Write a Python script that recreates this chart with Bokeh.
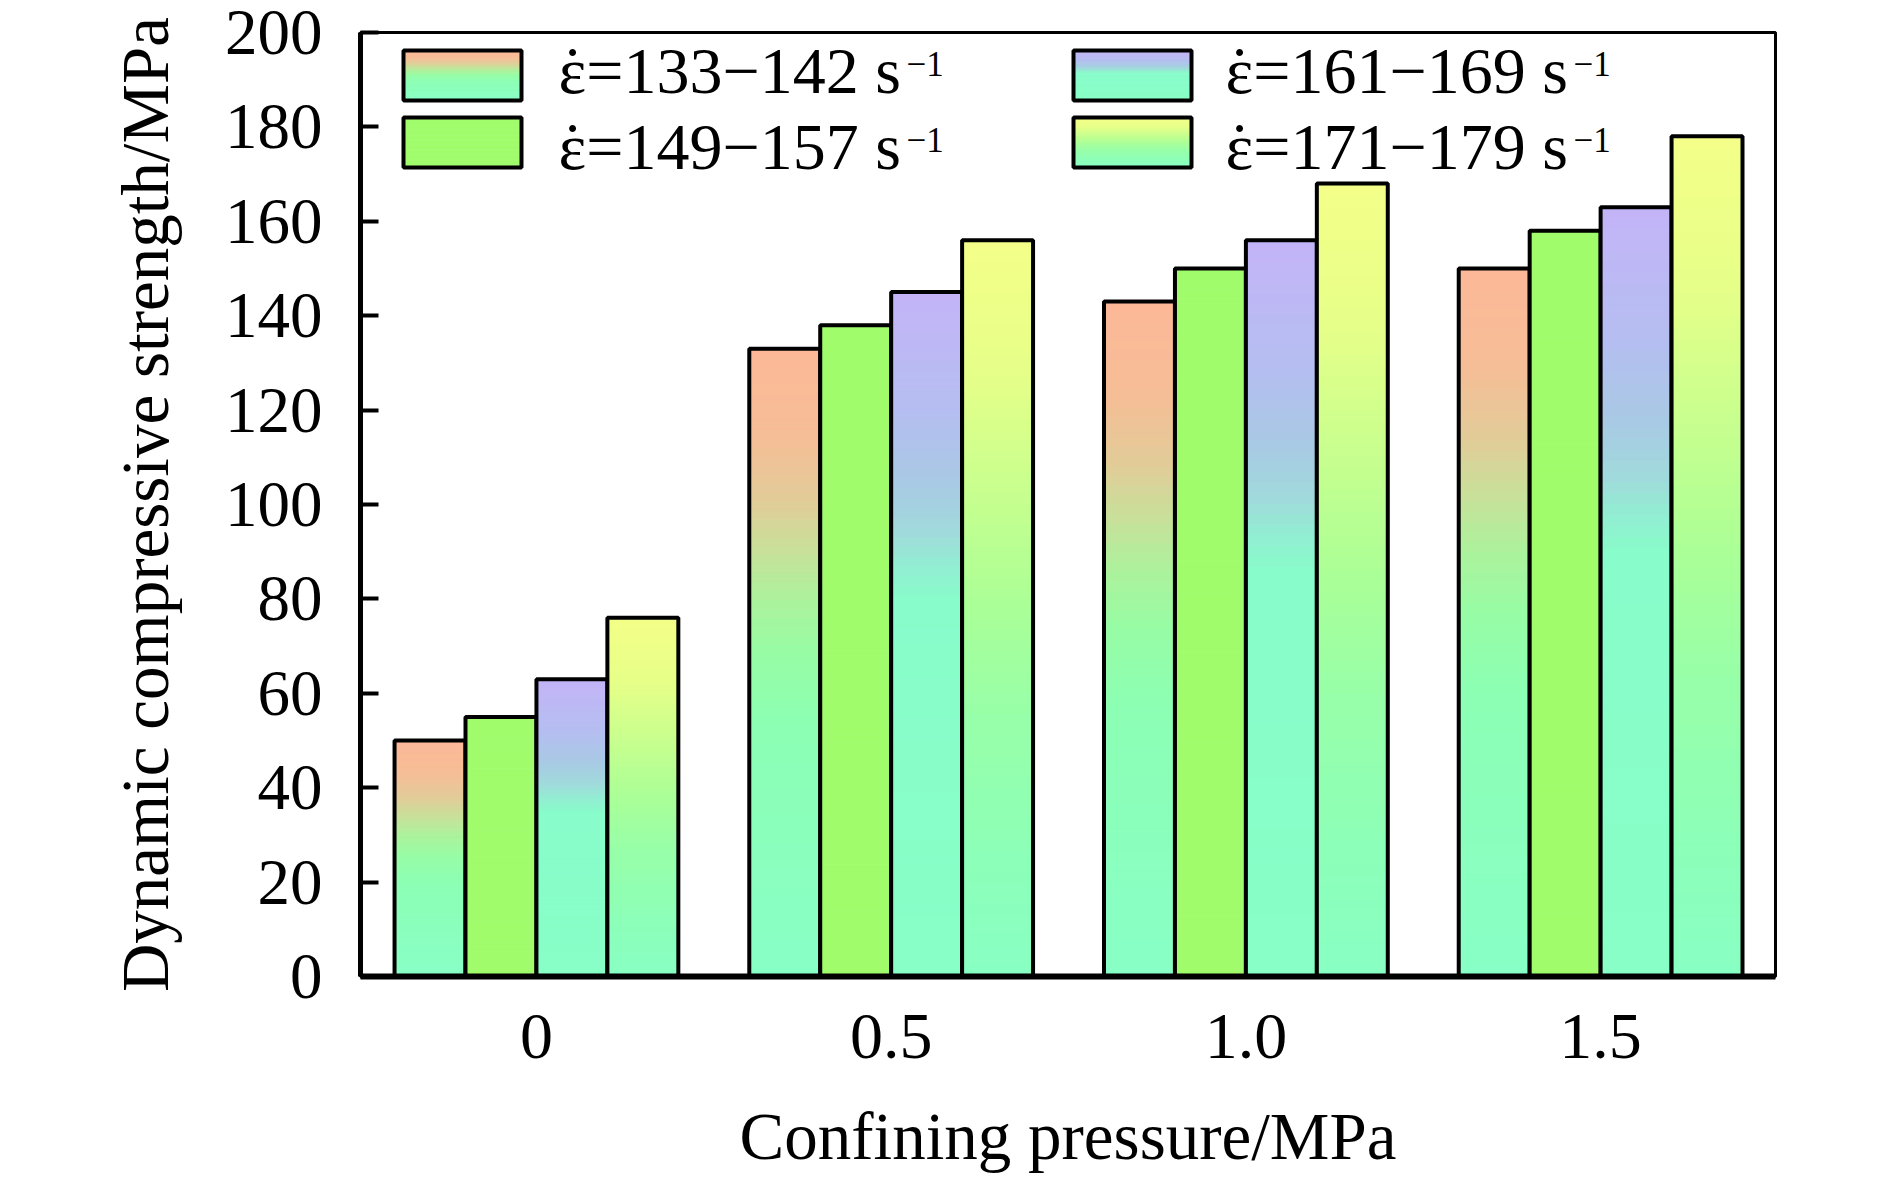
import numpy as np
from bokeh.plotting import figure
from bokeh.models import Range1d, FixedTicker
from bokeh.core.properties import value
from bokeh.embed import file_html
from bokeh.resources import INLINE

# ---------------- data ----------------
pressure_labels = ["0", "0.5", "1.0", "1.5"]
series_labels = ["\u03b5=133\u2212142 s", "\u03b5=149\u2212157 s",
                 "\u03b5=161\u2212169 s", "\u03b5=171\u2212179 s"]
rate_133_142 = [50, 133, 143, 150]
rate_149_157 = [55, 138, 150, 158]
rate_161_169 = [63, 145, 156, 163]
rate_171_179 = [76, 156, 168, 178]
y_ticks = [0, 20, 40, 60, 80, 100, 120, 140, 160, 180, 200]

series_values = [rate_133_142, rate_149_157, rate_161_169, rate_171_179]

# gradient stops (fraction from bar bottom, colour)
salmon_stops = [(0, "#88FFC6"), (0.40, "#8CFFB4"), (0.52, "#98FCA4"), (0.60, "#ACF29C"),
                (0.68, "#C8E09A"), (0.76, "#E2CC98"), (0.86, "#F6BE96"), (1, "#FDB898")]
green_stops = [(0, "#A1FC6C"), (1, "#A1FC6C")]
purple_stops = [(0, "#88FFC6"), (0.55, "#88FCCA"), (0.60, "#92EED2"), (0.65, "#A0DADC"),
                (0.72, "#A8CAE4"), (0.82, "#B4BEF0"), (1, "#C4B4F8")]
yellow_stops = [(0, "#88FFC4"), (0.16, "#8CFFB8"), (0.36, "#98FFA8"), (0.49, "#A8FF98"),
                (0.62, "#C0FF90"), (0.82, "#E6FF88"), (1, "#F4FF88")]
series_stops = [salmon_stops, green_stops, purple_stops, yellow_stops]


def _rgb(h):
    h = h.lstrip("#")
    return np.array([int(h[i:i + 2], 16) for i in (0, 2, 4)], dtype=float)


def grad_color(stops, f):
    for (f0, c0), (f1, c1) in zip(stops[:-1], stops[1:]):
        if f <= f1:
            t = 0 if f1 == f0 else (f - f0) / (f1 - f0)
            c = _rgb(c0) * (1 - t) + _rgb(c1) * t
            return "#%02x%02x%02x" % tuple(int(round(v)) for v in c)
    return stops[-1][1]


NSLICE = 70
BAR_W = 0.2
offsets = [-0.3, -0.1, 0.1, 0.3]
FONT = "Liberation Serif"

FRAME_W, FRAME_H = 1415, 944
p = figure(frame_width=FRAME_W, frame_height=FRAME_H,
           x_range=Range1d(-0.496, 3.493), y_range=Range1d(0, 200),
           output_backend="svg", toolbar_location=None,
           min_border_left=360, min_border_top=32, min_border_right=95,
           min_border_bottom=185, background_fill_color="white",
           border_fill_color="white")
p.extra_x_ranges = {"px": Range1d(0, FRAME_W)}
p.extra_y_ranges = {"px": Range1d(0, FRAME_H)}

p.xgrid.visible = False
p.ygrid.visible = False
p.outline_line_color = "black"
p.outline_line_width = 3
p.outline_line_alpha = 1

# ---------------- bars (gradient slices) ----------------
for s_idx, vals in enumerate(series_values):
    stops = series_stops[s_idx]
    xs = np.arange(len(vals)) + offsets[s_idx]
    L, R, B, T, C = [], [], [], [], []
    for j, v in enumerate(vals):
        for k in range(NSLICE):
            L.append(xs[j] - BAR_W / 2)
            R.append(xs[j] + BAR_W / 2)
            B.append(v * k / NSLICE)
            T.append(v * (k + 1) / NSLICE)
            C.append(grad_color(stops, (k + 0.5) / NSLICE))
    p.quad(left=L, right=R, bottom=B, top=T, fill_color=C, line_color=C, line_width=1)
    p.vbar(x=xs, width=BAR_W, top=vals, bottom=0, fill_alpha=0,
           line_color="black", line_width=4)

# ---------------- legend (frame pixel coordinates) ----------------
# column-wise: left column = series 0,1 ; right column = series 2,3
sw_left = [43, 43, 713, 713]
sw_bottom = [876, 809, 876, 809]
txt_x = [198, 198, 865, 865]
txt_y = [906, 830, 906, 830]
SW_W, SW_H = 118, 50
for s_idx in range(4):
    stops = series_stops[s_idx]
    l, b = sw_left[s_idx], sw_bottom[s_idx]
    L, R, B, T, C = [], [], [], [], []
    for k in range(30):
        L.append(l)
        R.append(l + SW_W)
        B.append(b + SW_H * k / 30)
        T.append(b + SW_H * (k + 1) / 30)
        C.append(grad_color(stops, (k + 0.5) / 30))
    p.quad(left=L, right=R, bottom=B, top=T, fill_color=C, line_color=C, line_width=1,
           x_range_name="px", y_range_name="px")
    p.quad(left=[l], right=[l + SW_W], bottom=[b], top=[b + SW_H], fill_alpha=0,
           line_color="black", line_width=4, x_range_name="px", y_range_name="px")

p.text(x=txt_x, y=txt_y, text=series_labels,
       x_range_name="px", y_range_name="px",
       text_font=value(FONT), text_font_size="66px",
       text_baseline="alphabetic", text_align="left", text_color="black")
# dot above epsilon (strain-rate symbol)
p.text(x=[x + 14 for x in txt_x], y=txt_y, text=["\u02d9"] * 4,
       x_range_name="px", y_range_name="px",
       text_font=value(FONT), text_font_size="66px",
       text_baseline="alphabetic", text_align="center", text_color="black")
# superscript -1
p.text(x=[x + 348 for x in txt_x], y=[y + 7 for y in txt_y], text=["\u22121"] * 4,
       x_range_name="px", y_range_name="px",
       text_font=value(FONT), text_font_size="35px",
       text_baseline="alphabetic", text_align="left", text_color="black")

# ---------------- axes ----------------
xa = p.xaxis[0]
xa.ticker = FixedTicker(ticks=[0, 1, 2, 3])
xa.major_label_overrides = {i: lab for i, lab in enumerate(pressure_labels)}
xa.major_tick_in = 0
xa.major_tick_out = 0
xa.minor_tick_line_color = None
xa.axis_line_width = 6
xa.axis_line_color = "black"
xa.major_label_text_font = FONT
xa.major_label_text_font_size = "66px"
xa.major_label_text_color = "black"
xa.major_label_standoff = 38
xa.axis_label = "Confining pressure/MPa"
xa.axis_label_text_font = FONT
xa.axis_label_text_font_size = "67px"
xa.axis_label_text_font_style = "normal"
xa.axis_label_text_color = "black"
xa.axis_label_standoff = 38

ya = p.yaxis[0]
ya.ticker = FixedTicker(ticks=y_ticks)
ya.major_tick_in = 18
ya.major_tick_out = 0
ya.major_tick_line_width = 4
ya.major_tick_line_color = "black"
ya.minor_tick_line_color = None
ya.axis_line_width = 5
ya.axis_line_color = "black"
ya.major_label_text_font = FONT
ya.major_label_text_font_size = "65px"
ya.major_label_text_color = "black"
ya.major_label_standoff = 38
ya.axis_label = "Dynamic compressive strength/MPa"
ya.axis_label_text_font = FONT
ya.axis_label_text_font_size = "67px"
ya.axis_label_text_font_style = "normal"
ya.axis_label_text_color = "black"
ya.axis_label_standoff = 40

open("out.html", "w").write(file_html(p, INLINE))
